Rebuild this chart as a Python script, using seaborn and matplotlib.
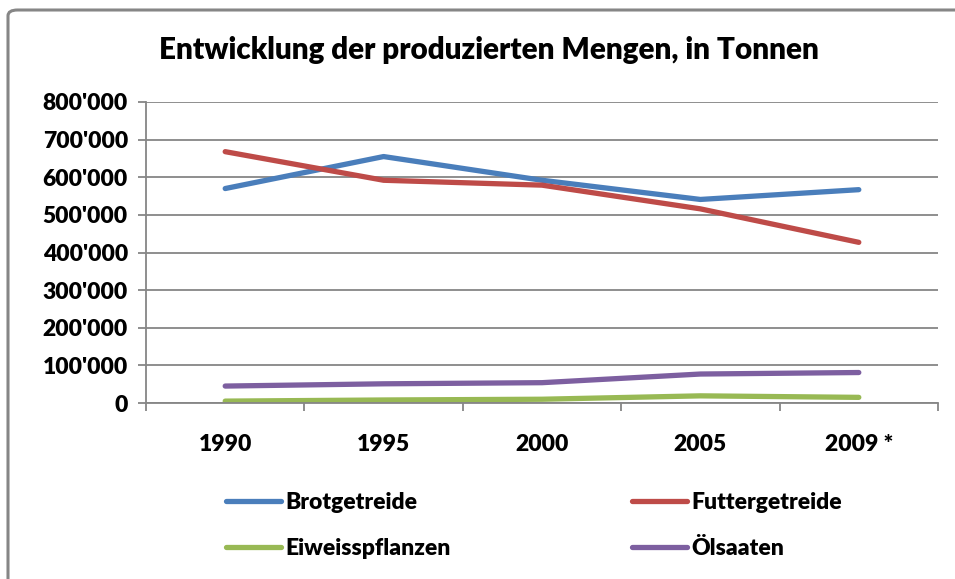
import numpy as np
import pandas as pd
import seaborn as sns
import matplotlib.pyplot as plt
import matplotlib.ticker as mticker
from matplotlib.patches import FancyBboxPatch

sns.set_theme(style="white")
plt.rcParams['font.family'] = ['Lato', 'DejaVu Sans']
plt.rcParams['font.weight'] = 'heavy'
plt.rcParams['text.color'] = 'black'
plt.rcParams['xtick.color'] = 'black'
plt.rcParams['ytick.color'] = 'black'

# data (tonnes)
years = ["1990", "1995", "2000", "2005", "2009 *"]
brotgetreide = [570000, 655000, 592000, 541000, 567000]
futtergetreide = [668000, 592000, 579000, 516000, 427000]
eiweisspflanzen = [5000, 8000, 10000, 19000, 15000]
oelsaaten = [45000, 51000, 54000, 77000, 81000]

series_names = ["Brotgetreide", "Futtergetreide", "Eiweisspflanzen", "Ölsaaten"]
colors = ["#4A7EBB", "#BE4B48", "#98B954", "#7D5FA0"]

df = pd.DataFrame({
    "Jahr": years * 4,
    "Menge": brotgetreide + futtergetreide + eiweisspflanzen + oelsaaten,
    "Serie": np.repeat(series_names, len(years)),
})

fig = plt.figure(figsize=(9.55, 5.79), dpi=100)
ax = fig.add_axes([146 / 955, 1 - 403 / 579, (938 - 146) / 955, (403 - 102) / 579])

# chart area border (Excel style)
fig.patches.append(FancyBboxPatch(
    (8 / 955, -0.05), 1.2, 1 - 10 / 579 + 0.05,
    boxstyle="round,pad=0,rounding_size=0.01",
    transform=fig.transFigure, fill=False, edgecolor="#868686", linewidth=2.2,
))

sns.lineplot(
    data=df, x="Jahr", y="Menge", hue="Serie",
    palette=dict(zip(series_names, colors)),
    linewidth=3.8, sort=False, legend=False, ax=ax,
    solid_capstyle="round",
)

ax.set_xlim(-0.5, len(years) - 0.5)
ax.set_ylim(0, 800000)
ax.yaxis.set_major_locator(mticker.MultipleLocator(100000))
ax.yaxis.set_major_formatter(mticker.FuncFormatter(
    lambda v, p: "0" if v == 0 else f"{int(v):,}".replace(",", "'")))
ax.grid(axis="y", color="#868686", linewidth=1.3)
ax.set_axisbelow(True)

# category labels in the middle, tick marks on the boundaries
ax.set_xticks(range(len(years)))
ax.set_xticklabels(years)
ax.set_xticks(np.arange(-0.5, len(years)), minor=True)
ax.tick_params(axis="x", which="major", length=0, pad=22, labelsize=16.5)
ax.tick_params(axis="x", which="minor", length=6, width=1.3, color="#868686", direction="out")
ax.tick_params(axis="y", length=6, width=1.3, color="#868686", labelcolor="black",
               direction="out", pad=7, labelsize=16.5)
ax.tick_params(left=True, bottom=True, which="both")

for side in ["top", "right"]:
    ax.spines[side].set_visible(False)
for side in ["left", "bottom"]:
    ax.spines[side].set_color("#868686")
    ax.spines[side].set_linewidth(1.3)

ax.set_xlabel("")
ax.set_ylabel("")

fig.text(489 / 955, 1 - 50 / 579, "Entwicklung der produzierten Mengen, in Tonnen",
         ha="center", va="center", fontsize=21.3, color="black")

# legend: two rows, two columns
handles = [plt.Line2D([], [], color=c, linewidth=3.8, solid_capstyle="round") for c in colors]
order = [0, 2, 1, 3]
fig.legend([handles[i] for i in order], [series_names[i] for i in order],
           loc="upper left", bbox_to_anchor=(226 / 955, 1 - 492 / 579),
           ncol=2, frameon=False, fontsize=16.5, handlelength=2.4, handletextpad=0.2,
           columnspacing=7.9, labelspacing=1.1, borderpad=0, borderaxespad=0)

fig.savefig("out.png", dpi=100)
